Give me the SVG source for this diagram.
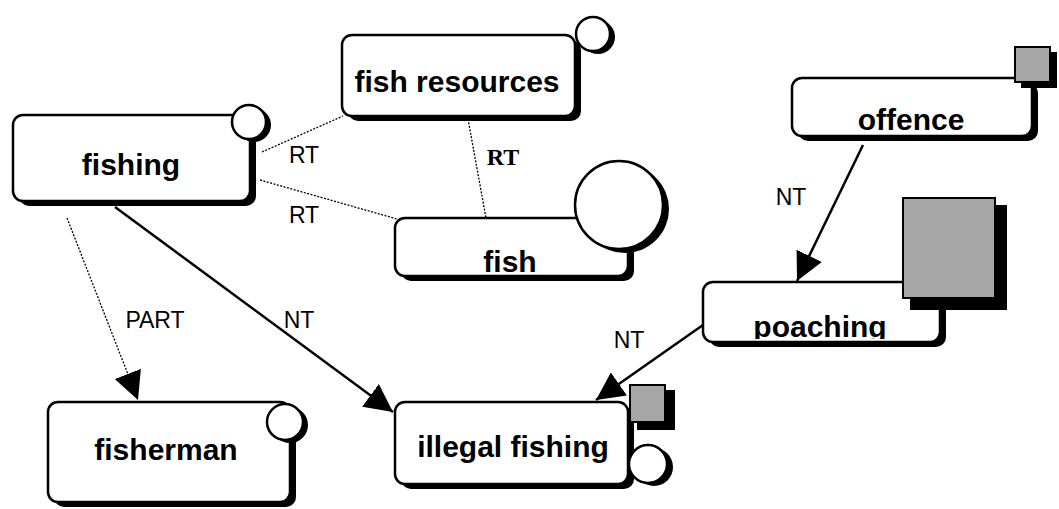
<svg xmlns="http://www.w3.org/2000/svg" width="1059" height="509" viewBox="0 0 1059 509">
<style>
.box{fill:#fff;stroke:#000;stroke-width:2.5}
.sh{fill:#000}
.sq{fill:#a6a6a6;stroke:#000;stroke-width:2}
.t{font-family:"Liberation Sans",Arial,sans-serif;font-weight:bold;font-size:30px;text-anchor:middle;fill:#000}
.lb{font-family:"Liberation Sans",Arial,sans-serif;font-size:23px;text-anchor:middle;fill:#000}
.lbs{font-family:"Liberation Serif","Times New Roman",serif;font-weight:bold;font-size:24px;text-anchor:middle;fill:#000}
.dash{stroke:#000;stroke-width:1.3;stroke-dasharray:2 1.5;fill:none}
.solid{stroke:#000;stroke-width:2.5;fill:none}
</style>
<defs>
<marker id="ah" markerUnits="userSpaceOnUse" markerWidth="30" markerHeight="28" refX="28" refY="14" orient="auto" viewBox="0 0 30 28">
<path d="M0,0 L28,14 L0,28 z" fill="#000"/>
</marker>
<clipPath id="pclip"><rect x="700" y="280" width="250" height="59"/></clipPath>
</defs>
<g id="connectors">
<line class="dash" x1="262" y1="152" x2="343" y2="116"/>
<line class="dash" x1="260" y1="180" x2="397" y2="219"/>
<line class="dash" x1="468" y1="119" x2="486" y2="218"/>
<line class="dash" x1="67" y1="218" x2="138" y2="400" marker-end="url(#ah)"/>
<line class="solid" x1="115" y1="207" x2="393" y2="412" marker-end="url(#ah)"/>
<line class="solid" x1="863" y1="145" x2="797" y2="281" marker-end="url(#ah)"/>
<line class="solid" x1="703" y1="325" x2="596" y2="400" marker-end="url(#ah)"/>
<text class="lb" x="304" y="163">RT</text>
<text class="lb" x="304" y="223">RT</text>
<text class="lbs" x="503" y="165">RT</text>
<text class="lb" x="155" y="328">PART</text>
<text class="lb" x="299" y="328">NT</text>
<text class="lb" x="791" y="205">NT</text>
<text class="lb" x="629" y="348">NT</text>
</g>
<g id="fishing">
<rect class="sh" x="19" y="120" width="237" height="86" rx="10"/>
<rect class="box" x="13" y="115" width="237" height="86" rx="10"/>
<circle class="sh" cx="254" cy="125" r="17"/>
<circle class="box" cx="249" cy="122" r="17"/>
<text class="t" x="131" y="175">fishing</text>
</g>
<g id="fish-resources">
<rect class="sh" x="348" y="40" width="233" height="81" rx="10"/>
<rect class="box" x="342" y="35" width="233" height="81" rx="10"/>
<circle class="sh" cx="598" cy="37" r="17"/>
<circle class="box" cx="593" cy="34" r="17"/>
<text class="t" x="457" y="92">fish resources</text>
</g>
<g id="fish">
<rect class="sh" x="401" y="223" width="233" height="58" rx="10"/>
<rect class="box" x="395" y="218" width="233" height="58" rx="10"/>
<circle class="sh" cx="625" cy="209" r="44"/>
<circle class="box" cx="619" cy="205" r="44"/>
<text class="t" x="510" y="272">fish</text>
</g>
<g id="offence">
<rect class="sh" x="798" y="83" width="240" height="58" rx="10"/>
<rect class="box" x="792" y="78" width="240" height="58" rx="10"/>
<rect class="sh" x="1021" y="52" width="36" height="36"/>
<rect class="sq" x="1015" y="47" width="35" height="35"/>
<text class="t" x="911" y="130">offence</text>
</g>
<g id="poaching">
<rect class="sh" x="709" y="287" width="237" height="60" rx="10"/>
<rect class="box" x="703" y="282" width="237" height="60" rx="10"/>
<rect class="sh" x="910" y="205" width="97" height="105"/>
<rect class="sq" x="903" y="198" width="92" height="100"/>
<text class="t" x="820" y="337" clip-path="url(#pclip)">poaching</text>
</g>
<g id="illegal-fishing">
<rect class="sh" x="401" y="407" width="233" height="82" rx="10"/>
<rect class="box" x="395" y="402" width="233" height="82" rx="10"/>
<rect class="sh" x="637" y="390" width="38" height="40"/>
<rect class="sq" x="630" y="385" width="35" height="37"/>
<circle class="sh" cx="654" cy="467" r="19"/>
<circle class="box" cx="648" cy="464" r="19"/>
<text class="t" x="513" y="457">illegal fishing</text>
</g>
<g id="fisherman">
<rect class="sh" x="54" y="407" width="242" height="100" rx="10"/>
<rect class="box" x="48" y="402" width="242" height="100" rx="10"/>
<circle class="sh" cx="290" cy="425" r="18"/>
<circle class="box" cx="285" cy="422" r="18"/>
<text class="t" x="166" y="460">fisherman</text>
</g>
</svg>
